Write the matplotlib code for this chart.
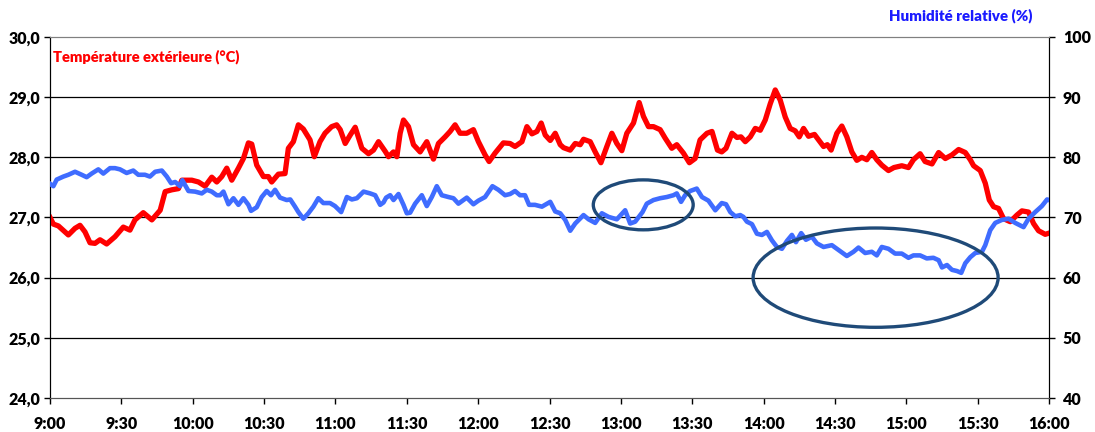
import matplotlib.pyplot as plt
from matplotlib.patches import Ellipse

# minutes after 9:00 and outdoor temperature (°C)
temp_min = [0, 1.4, 3.5, 7.7, 10.5, 12.6, 14.7, 16.8, 18.9, 21.0, 23.8, 27.3, 30.8, 33.6, 35.7,
            39.2, 42.8, 46.3, 48.4, 51.2, 54.0, 55.4, 59.6, 62.4, 65.2, 68.0, 70.1, 72.2, 74.3,
            76.4, 79.2, 81.3, 83.4, 84.8, 86.9, 89.7, 91.8, 93.2, 96.0, 98.8, 100.2, 102.3,
            104.4, 106.5, 109.3, 111.1, 113.5, 115.6, 118.4, 120.5, 122.0, 124.1, 126.2, 128.3,
            131.1, 133.9, 136.0, 138.1, 139.5, 140.9, 142.3, 144.4, 145.8, 147.2, 148.6, 150.7,
            152.8, 155.6, 158.4, 161.2, 163.3, 166.1, 168.2, 170.3, 172.4, 175.2, 178.0, 180.1,
            182.9, 184.6, 187.1, 190.6, 193.4, 195.5, 198.4, 200.5, 202.6, 204.7, 206.5, 208.2,
            210.3, 212.4, 214.5, 215.9, 218.7, 220.8, 222.9, 224.3, 227.1, 229.2, 231.6, 234.1,
            236.2, 238.3, 240.4, 242.5, 245.3, 247.7, 249.5, 251.6, 253.7, 256.5, 258.6, 261.4,
            263.5, 266.3, 268.8, 271.2, 273.3, 276.2, 278.3, 280.6, 282.4, 284.2, 286.7, 288.8,
            290.5, 292.3, 294.4, 296.5, 298.6, 300.7, 302.8, 304.9, 307.0, 309.1, 311.2, 313.3,
            315.0, 316.8, 318.9, 321.4, 323.1, 325.2, 326.8, 328.4, 330.8, 332.9, 335.0, 337.1,
            339.2, 341.3, 343.4, 345.5, 347.6, 349.7, 352.5, 354.8, 358.1, 360.9, 363.0, 365.8,
            367.9, 370.8, 373.6, 376.4, 379.2, 382.0, 384.8, 386.9, 388.3, 391.1, 393.2, 394.9,
            396.7, 398.8, 400.9, 403.7, 406.5, 408.6, 411.4, 413.5, 415.6, 418.4, 420.0]
temp_c = [27.00, 26.89, 26.86, 26.71, 26.82, 26.87, 26.76, 26.58, 26.57, 26.63, 26.56, 26.68,
          26.84, 26.79, 26.96, 27.08, 26.96, 27.12, 27.43, 27.46, 27.48, 27.62, 27.62, 27.59,
          27.52, 27.67, 27.59, 27.68, 27.82, 27.62, 27.82, 27.98, 28.24, 28.22, 27.87, 27.68,
          27.68, 27.59, 27.72, 27.73, 28.15, 28.26, 28.54, 28.47, 28.29, 28.01, 28.26, 28.40,
          28.51, 28.54, 28.46, 28.23, 28.37, 28.50, 28.15, 28.06, 28.12, 28.26, 28.18, 28.10,
          28.01, 28.09, 28.01, 28.40, 28.62, 28.51, 28.21, 28.09, 28.26, 27.97, 28.23, 28.34,
          28.43, 28.54, 28.40, 28.40, 28.46, 28.26, 28.04, 27.93, 28.07, 28.24, 28.23, 28.18,
          28.26, 28.51, 28.39, 28.43, 28.57, 28.37, 28.28, 28.40, 28.21, 28.16, 28.12, 28.23,
          28.21, 28.30, 28.26, 28.09, 27.91, 28.18, 28.40, 28.23, 28.11, 28.40, 28.57, 28.91,
          28.68, 28.51, 28.51, 28.46, 28.32, 28.15, 28.21, 28.07, 27.91, 27.98, 28.29, 28.40,
          28.43, 28.12, 28.09, 28.15, 28.40, 28.33, 28.34, 28.26, 28.34, 28.48, 28.45, 28.62,
          28.89, 29.12, 28.95, 28.67, 28.48, 28.44, 28.34, 28.48, 28.35, 28.38, 28.29, 28.18,
          28.21, 28.12, 28.40, 28.52, 28.34, 28.09, 27.95, 28.00, 27.96, 28.08, 27.96, 27.87,
          27.78, 27.83, 27.86, 27.83, 27.96, 28.06, 27.93, 27.89, 28.08, 27.98, 28.04, 28.13,
          28.08, 27.96, 27.86, 27.78, 27.57, 27.29, 27.18, 27.15, 26.98, 26.93, 27.04, 27.11,
          27.09, 26.90, 26.78, 26.72, 26.74]

# minutes after 9:00 and relative humidity (%)
hum_min = [0, 1.4, 2.8, 5.6, 7.7, 10.5, 13.3, 15.4, 17.5, 20.3, 22.4, 25.2, 27.3, 29.4, 32.2,
           35.0, 37.1, 39.9, 42.0, 44.2, 47.0, 49.1, 50.9, 52.6, 54.7, 55.6, 58.2, 61.0, 63.8,
           65.9, 68.0, 70.1, 71.5, 72.9, 75.0, 77.1, 79.2, 81.3, 83.4, 84.5, 86.9, 89.0, 91.1,
           92.9, 94.6, 96.7, 99.5, 101.0, 103.0, 104.4, 106.5, 108.6, 110.7, 112.8, 114.9,
           117.7, 119.8, 122.4, 124.8, 126.9, 129.0, 131.8, 134.6, 136.7, 138.8, 140.2, 141.3,
           143.0, 144.4, 146.5, 148.6, 150.0, 151.4, 153.5, 156.3, 158.4, 160.5, 162.6, 164.7,
           167.5, 169.6, 171.7, 175.2, 178.0, 180.1, 182.9, 186.0, 188.5, 191.3, 193.4, 195.5,
           197.6, 199.7, 201.4, 203.9, 206.8, 210.3, 212.4, 214.5, 216.6, 218.7, 220.8, 224.3,
           226.4, 229.2, 232.0, 234.8, 238.3, 241.8, 243.9, 246.0, 249.1, 250.9, 253.7, 256.5,
           259.3, 262.1, 263.5, 265.3, 267.0, 269.1, 271.9, 274.1, 276.8, 279.7, 282.4, 284.2,
           286.0, 288.1, 290.2, 291.5, 293.0, 295.1, 297.2, 299.3, 301.4, 303.5, 305.6, 307.7,
           309.8, 311.9, 313.6, 315.8, 317.8, 320.3, 322.4, 325.2, 328.7, 331.5, 335.0, 337.8,
           339.9, 342.7, 345.5, 347.6, 349.7, 352.5, 355.3, 358.1, 360.9, 363.0, 365.8, 368.6,
           371.4, 373.6, 375.0, 377.1, 379.2, 381.3, 383.1, 384.8, 386.9, 389.0, 391.8, 393.2,
           395.3, 397.4, 400.2, 403.0, 405.8, 409.3, 411.4, 414.2, 417.0, 419.2, 420.0]
hum_pct = [75.6, 75.2, 76.3, 76.8, 77.1, 77.6, 77.1, 76.7, 77.3, 78.0, 77.3, 78.2, 78.2, 78.0,
           77.4, 77.8, 77.1, 77.1, 76.8, 77.6, 77.8, 76.8, 75.7, 75.9, 75.2, 76.2, 74.4, 74.3,
           74.0, 74.6, 74.3, 73.7, 73.7, 74.3, 72.2, 73.2, 72.1, 73.2, 72.1, 71.1, 71.7, 73.4,
           74.4, 73.7, 74.6, 73.3, 72.9, 73.0, 71.8, 70.9, 69.8, 70.7, 71.8, 73.2, 72.4, 72.4,
           71.9, 70.9, 73.4, 73.0, 73.2, 74.3, 74.0, 73.7, 72.1, 72.5, 73.3, 73.7, 72.9, 73.9,
           72.1, 70.7, 70.8, 72.3, 73.7, 71.9, 73.4, 75.2, 73.7, 73.4, 73.2, 72.3, 73.3, 72.2,
           72.8, 73.4, 75.2, 74.6, 73.7, 73.9, 74.4, 73.7, 73.7, 72.1, 72.1, 71.8, 72.6, 71.0,
           70.7, 69.6, 67.8, 69.0, 70.4, 69.7, 69.1, 70.7, 70.1, 69.7, 71.2, 69.0, 69.3, 70.9,
           72.3, 72.9, 73.2, 73.4, 73.7, 74.0, 72.6, 73.7, 74.4, 74.8, 73.4, 72.8, 71.2, 72.4,
           72.2, 70.9, 70.2, 70.4, 70.1, 69.3, 68.9, 67.3, 67.1, 67.6, 66.2, 65.1, 64.8, 66.1,
           67.1, 65.9, 67.4, 66.3, 66.8, 65.7, 65.1, 65.4, 64.6, 63.6, 64.3, 65.0, 64.1, 64.3,
           63.7, 65.1, 64.8, 64.0, 64.0, 63.3, 63.7, 63.7, 63.2, 63.3, 62.9, 61.7, 62.1, 61.3,
           61.1, 60.8, 62.4, 63.4, 64.1, 64.3, 65.4, 67.9, 69.1, 69.6, 69.8, 69.1, 68.4, 69.8,
           70.9, 71.9, 73.0, 72.9]

tick_min = list(range(0, 421, 30))
tick_labels = ['9:00', '9:30', '10:00', '10:30', '11:00', '11:30', '12:00', '12:30',
               '13:00', '13:30', '14:00', '14:30', '15:00', '15:30', '16:00']
temp_ticks = [24, 25, 26, 27, 28, 29, 30]
hum_ticks = [40, 50, 60, 70, 80, 90, 100]

plt.rcParams['font.family'] = ['Lato', 'DejaVu Sans']
plt.rcParams['font.weight'] = 'heavy'

fig, ax = plt.subplots(figsize=(10.95, 4.32), dpi=100)
fig.subplots_adjust(left=0.0457, right=0.958, top=0.9144, bottom=0.0787)

for t in temp_ticks[1:-1]:
    ax.axhline(t, color='black', lw=0.9, zorder=1)

ax.plot(temp_min, temp_c, color='#ff0000', lw=3.8, solid_joinstyle='round', zorder=3)
ax.set_xlim(0, 420)
ax.set_ylim(24, 30)
ax.set_yticks(temp_ticks)
ax.set_yticklabels([f'{t:.1f}'.replace('.', ',') for t in temp_ticks])
ax.set_xticks(tick_min)
ax.set_xticklabels(tick_labels)
ax.tick_params(axis='both', labelsize=11.5, length=4, width=1, color='black', pad=3)
ax.tick_params(axis='x', pad=9)

ax2 = ax.twinx()
ax2.plot(hum_min, hum_pct, color='#3f6cff', lw=3.3, solid_joinstyle='round', zorder=3)
ax2.set_ylim(40, 100)
ax2.set_yticks(hum_ticks)
ax2.tick_params(axis='y', labelsize=11.5, length=4, width=1, color='black', pad=6)

# circled zones
for cx, cy, w, h in [(249.4, 72.1, 42, 8.3), (347.1, 60.0, 103, 16.5)]:
    ax2.add_patch(Ellipse((cx, cy), w, h, fill=False, edgecolor='#1f4a78', lw=2.4, zorder=4))

for a in (ax, ax2):
    a.spines['top'].set_color('#808080')
    a.spines['bottom'].set_color('#555555')
    a.spines['left'].set_color('black')
    a.spines['right'].set_color('black')

ax.text(0.003, 0.945, 'Température extérieure (°C)', transform=ax.transAxes, color='#ff0000',
        fontsize=10.6, fontweight='heavy', ha='left', va='center')
fig.text(0.943, 0.963, 'Humidité relative (%)', color='#1a1aff', fontsize=10.8,
         fontweight='heavy', ha='right', va='center')

plt.savefig('out.png', dpi=100)
